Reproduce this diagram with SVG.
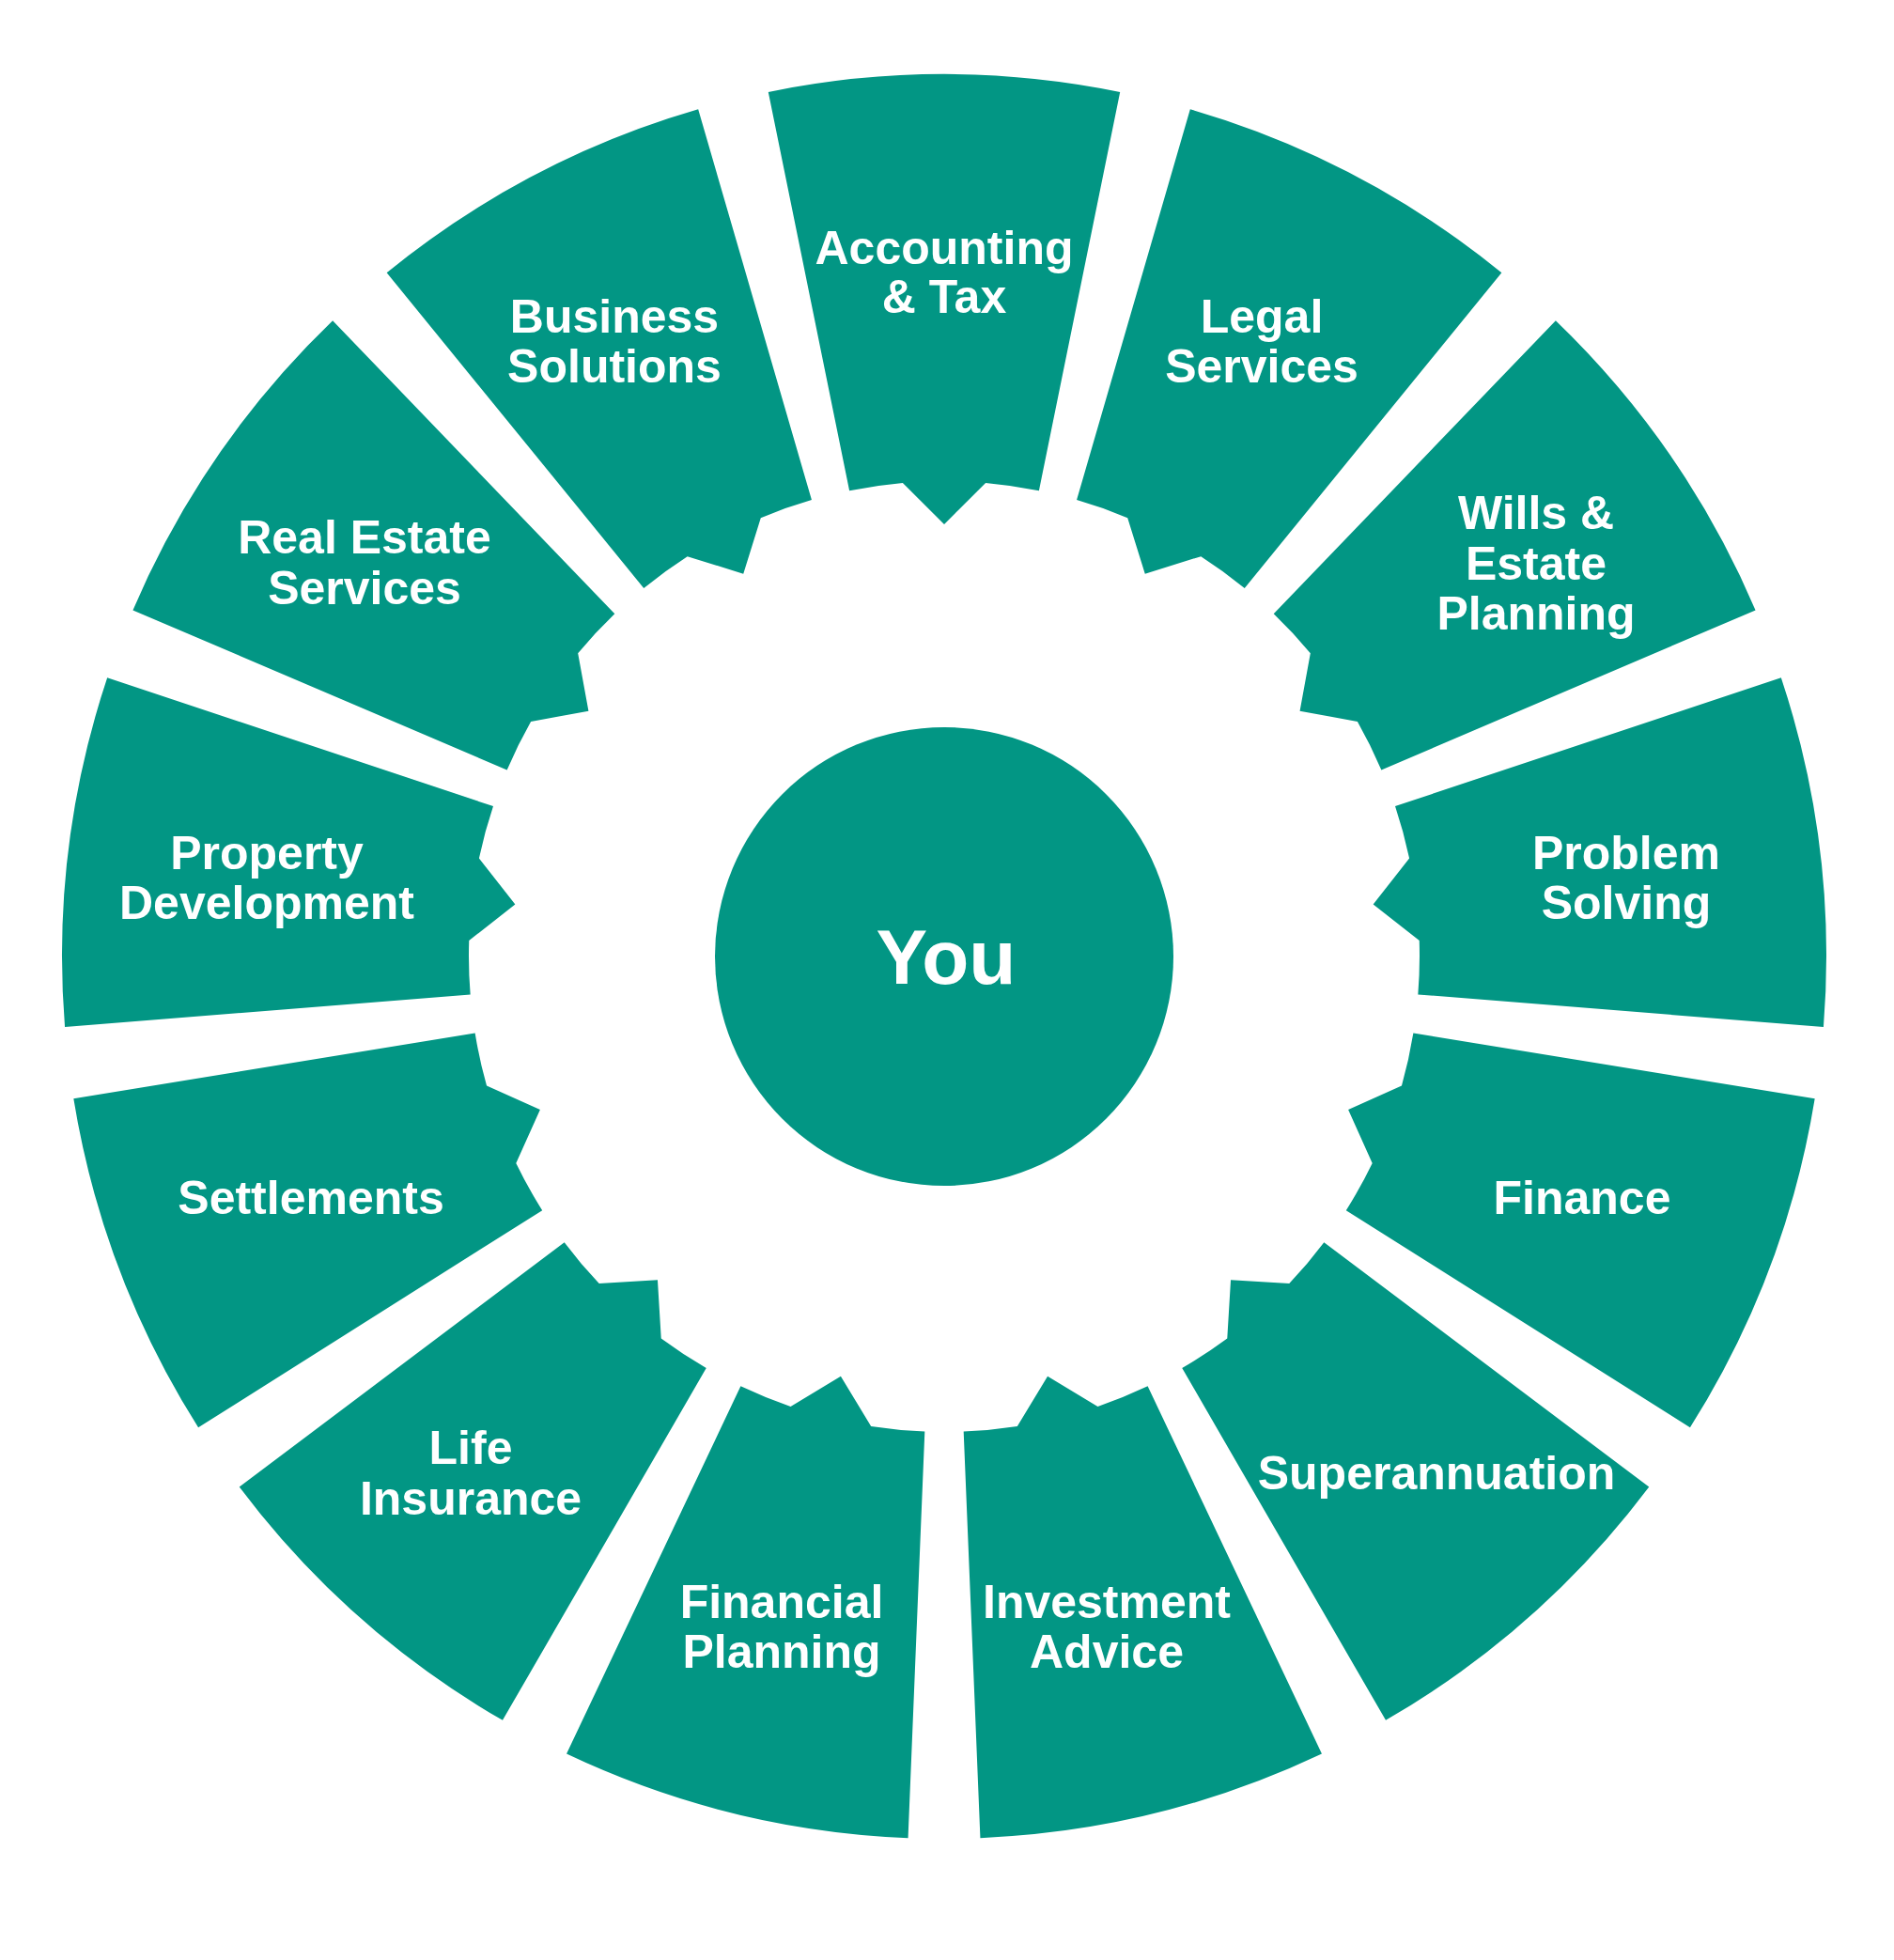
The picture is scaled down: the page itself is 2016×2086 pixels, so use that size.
<svg xmlns="http://www.w3.org/2000/svg" xmlns:xlink="http://www.w3.org/1999/xlink" width="2016" height="2086" viewBox="0 0 2016 2086">
  <style>
    .seg { fill: #029684; }
    .lbl { font-family: "Liberation Sans", Arial, sans-serif; font-weight: bold; font-size: 50px; fill: #ffffff; text-anchor: middle; }
    .you { font-family: "Liberation Sans", Arial, sans-serif; font-weight: bold; font-size: 82px; fill: #ffffff; text-anchor: middle; }
  </style>
  <defs>
    <path id="seg" d="M -187.2 -920.1 A 939 939 0 0 1 187.2 -920.1 L 100.9 -495.8 A 506 506 0 0 0 44.1 -504.1 L 0 -460 L -44.1 -504.1 A 506 506 0 0 0 -100.9 -495.8 Z"/>
  </defs>
  <rect width="2016" height="2086" fill="#ffffff"/>

  <g id="accounting-tax">
    <use xlink:href="#seg" class="seg" transform="translate(1005 1018) rotate(0)"/>
    <text class="lbl" x="1005" y="281">Accounting</text>
    <text class="lbl" x="1005" y="333">&amp; Tax</text>
  </g>
  <g id="legal-services">
    <use xlink:href="#seg" class="seg" transform="translate(1005 1018) rotate(27.6923)"/>
    <text class="lbl" x="1343" y="354">Legal</text>
    <text class="lbl" x="1343" y="407">Services</text>
  </g>
  <g id="wills-estate-planning">
    <use xlink:href="#seg" class="seg" transform="translate(1005 1018) rotate(55.3846)"/>
    <text class="lbl" x="1635" y="563">Wills &amp;</text>
    <text class="lbl" x="1635" y="617">Estate</text>
    <text class="lbl" x="1635" y="670">Planning</text>
  </g>
  <g id="problem-solving">
    <use xlink:href="#seg" class="seg" transform="translate(1005 1018) rotate(83.0769)"/>
    <text class="lbl" x="1731" y="925">Problem</text>
    <text class="lbl" x="1731" y="978">Solving</text>
  </g>
  <g id="finance">
    <use xlink:href="#seg" class="seg" transform="translate(1005 1018) rotate(110.7692)"/>
    <text class="lbl" x="1684" y="1292">Finance</text>
  </g>
  <g id="superannuation">
    <use xlink:href="#seg" class="seg" transform="translate(1005 1018) rotate(138.4615)"/>
    <text class="lbl" x="1529" y="1585">Superannuation</text>
  </g>
  <g id="investment-advice">
    <use xlink:href="#seg" class="seg" transform="translate(1005 1018) rotate(166.1538)"/>
    <text class="lbl" x="1178" y="1722">Investment</text>
    <text class="lbl" x="1178" y="1775">Advice</text>
  </g>
  <g id="financial-planning">
    <use xlink:href="#seg" class="seg" transform="translate(1005 1018) rotate(193.8462)"/>
    <text class="lbl" x="832" y="1722">Financial</text>
    <text class="lbl" x="832" y="1775">Planning</text>
  </g>
  <g id="life-insurance">
    <use xlink:href="#seg" class="seg" transform="translate(1005 1018) rotate(221.5385)"/>
    <text class="lbl" x="501" y="1558">Life</text>
    <text class="lbl" x="501" y="1612">Insurance</text>
  </g>
  <g id="settlements">
    <use xlink:href="#seg" class="seg" transform="translate(1005 1018) rotate(249.2308)"/>
    <text class="lbl" x="331" y="1292">Settlements</text>
  </g>
  <g id="property-development">
    <use xlink:href="#seg" class="seg" transform="translate(1005 1018) rotate(276.9231)"/>
    <text class="lbl" x="284" y="925">Property</text>
    <text class="lbl" x="284" y="978">Development</text>
  </g>
  <g id="real-estate-services">
    <use xlink:href="#seg" class="seg" transform="translate(1005 1018) rotate(304.6154)"/>
    <text class="lbl" x="388" y="589">Real Estate</text>
    <text class="lbl" x="388" y="643">Services</text>
  </g>
  <g id="business-solutions">
    <use xlink:href="#seg" class="seg" transform="translate(1005 1018) rotate(332.3077)"/>
    <text class="lbl" x="654" y="354">Business</text>
    <text class="lbl" x="654" y="407">Solutions</text>
  </g>

  <g id="you">
    <circle class="seg" cx="1005" cy="1018" r="244"/>
    <text class="you" x="1007" y="1047">You</text>
  </g>
</svg>
